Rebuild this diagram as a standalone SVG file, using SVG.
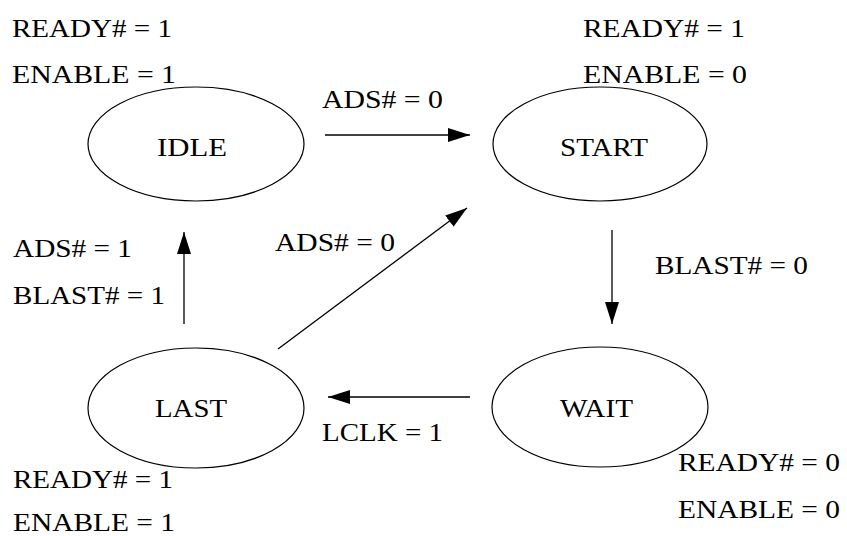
<svg xmlns="http://www.w3.org/2000/svg" width="847" height="536" viewBox="0 0 847 536">
<style>
text{font-family:"Liberation Serif","Times New Roman",serif;font-size:26px;fill:#000}
.st{fill:none;stroke:#000;stroke-width:1.2}
.cn{fill:none;stroke:#000;stroke-width:1.3}
</style>
<defs>
<marker id="ah" markerUnits="userSpaceOnUse" markerWidth="24" markerHeight="16" refX="22" refY="7" orient="auto">
<path d="M0,0 L22,7 L0,14 z" fill="#000"/>
</marker>
</defs>
<rect width="847" height="536" fill="#fff"/>
<g id="idle">
<ellipse class="st" cx="196" cy="144" rx="108" ry="57"/>
<text x="157" y="156" textLength="70" lengthAdjust="spacingAndGlyphs">IDLE</text>
<text x="12" y="37" textLength="160" lengthAdjust="spacingAndGlyphs">READY# = 1</text>
<text x="12" y="83" textLength="164" lengthAdjust="spacingAndGlyphs">ENABLE = 1</text>
</g>
<g id="start">
<ellipse class="st" cx="600" cy="144" rx="107" ry="57"/>
<text x="560" y="156" textLength="88" lengthAdjust="spacingAndGlyphs">START</text>
<text x="583" y="37" textLength="162" lengthAdjust="spacingAndGlyphs">READY# = 1</text>
<text x="583" y="83" textLength="164" lengthAdjust="spacingAndGlyphs">ENABLE = 0</text>
</g>
<g id="last">
<ellipse class="st" cx="196" cy="408" rx="108" ry="60"/>
<text x="155" y="417" textLength="72" lengthAdjust="spacingAndGlyphs">LAST</text>
<text x="13" y="488" textLength="160" lengthAdjust="spacingAndGlyphs">READY# = 1</text>
<text x="13" y="531" textLength="162" lengthAdjust="spacingAndGlyphs">ENABLE = 1</text>
</g>
<g id="wait">
<ellipse class="st" cx="600" cy="407" rx="108" ry="60"/>
<text x="560" y="417" textLength="73" lengthAdjust="spacingAndGlyphs">WAIT</text>
<text x="678" y="471" textLength="162" lengthAdjust="spacingAndGlyphs">READY# = 0</text>
<text x="678" y="518" textLength="162" lengthAdjust="spacingAndGlyphs">ENABLE = 0</text>
</g>
<g id="connectors">
<line class="cn" x1="325" y1="135" x2="470" y2="135" marker-end="url(#ah)"/>
<line class="cn" x1="612" y1="230" x2="612" y2="324" marker-end="url(#ah)"/>
<line class="cn" x1="184" y1="324" x2="184" y2="232" marker-end="url(#ah)"/>
<line class="cn" x1="278" y1="349" x2="467" y2="208" marker-end="url(#ah)"/>
<line class="cn" x1="470" y1="397" x2="328" y2="397" marker-end="url(#ah)"/>
<text x="322" y="108" textLength="121" lengthAdjust="spacingAndGlyphs">ADS# = 0</text>
<text x="655" y="274" textLength="153" lengthAdjust="spacingAndGlyphs">BLAST# = 0</text>
<text x="13" y="257" textLength="119" lengthAdjust="spacingAndGlyphs">ADS# = 1</text>
<text x="13" y="304" textLength="152" lengthAdjust="spacingAndGlyphs">BLAST# = 1</text>
<text x="275" y="251" textLength="120" lengthAdjust="spacingAndGlyphs">ADS# = 0</text>
<text x="322" y="441" textLength="121" lengthAdjust="spacingAndGlyphs">LCLK = 1</text>
</g>
</svg>
